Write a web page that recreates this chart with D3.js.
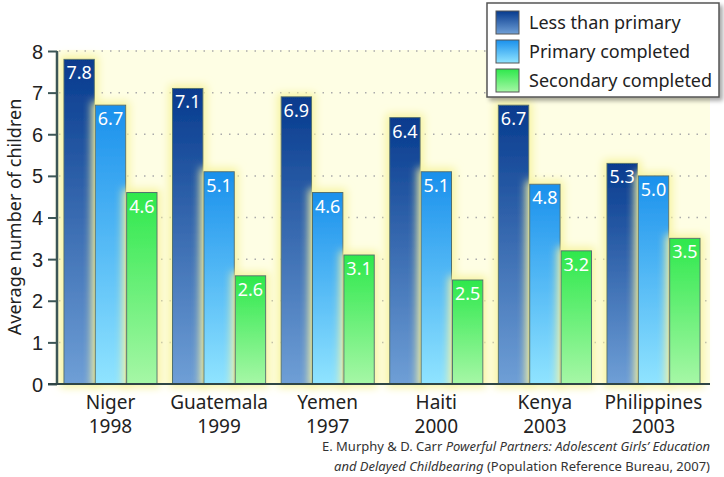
<!DOCTYPE html>
<html>
<head>
<meta charset="utf-8">
<script src="https://cdn.jsdelivr.net/npm/d3@7"></script>
<style>
  body { margin: 0; background: #fff; }
  svg { display: block; font-family: "Noto Sans", "Open Sans", sans-serif; }
  .tick-label { font-size: 20px; fill: #222; }
  .x-label { font-size: 19px; fill: #222; }
  .bar-label { font-size: 18px; fill: #fff; }
  .legend-text { font-size: 18px; fill: #222; }
  .source { font-size: 13px; fill: #333; }
</style>
</head>
<body>
<svg id="chart" width="724" height="477"></svg>
<script>
// data
const countries = ["Niger", "Guatemala", "Yemen", "Haiti", "Kenya", "Philippines"];
const years = ["1998", "1999", "1997", "2000", "2003", "2003"];
const seriesNames = ["Less than primary", "Primary completed", "Secondary completed"];
const lessThanPrimary = [7.8, 7.1, 6.9, 6.4, 6.7, 5.3];
const primaryCompleted = [6.7, 5.1, 4.6, 5.1, 4.8, 5.0];
const secondaryCompleted = [4.6, 2.6, 3.1, 2.5, 3.2, 3.5];
const yTicks = [0, 1, 2, 3, 4, 5, 6, 7, 8];

const seriesValues = [lessThanPrimary, primaryCompleted, secondaryCompleted];

// gradient colours top -> bottom for each series
const gradStops = [
    ["#063a8e", "#6f9fd6"],
    ["#1a90ec", "#90e4ff"],
    ["#2ee84c", "#a6f7a6"]
];

const svg = d3.select("#chart");
const plot = { left: 57, right: 710, top: 50, bottom: 384 };

const defs = svg.append("defs");
gradStops.forEach((c, i) => {
    let g = defs.append("linearGradient")
        .attr("id", "grad" + i)
        .attr("x1", 0).attr("y1", 0).attr("x2", 0).attr("y2", 1);
    g.append("stop").attr("offset", "0%").attr("stop-color", c[0]);
    g.append("stop").attr("offset", "100%").attr("stop-color", c[1]);
});

// yellow glow behind bars
let glow = defs.append("filter").attr("id", "glow")
    .attr("x", "-40%").attr("y", "-20%").attr("width", "180%").attr("height", "140%");
glow.append("feMorphology").attr("in", "SourceAlpha").attr("operator", "dilate").attr("radius", 3).attr("result", "d");
glow.append("feGaussianBlur").attr("in", "d").attr("stdDeviation", 4).attr("result", "b");
glow.append("feFlood").attr("flood-color", "#f6f3a0").attr("result", "f");
glow.append("feComposite").attr("in", "f").attr("in2", "b").attr("operator", "in").attr("result", "g");
let gm = glow.append("feMerge");
gm.append("feMergeNode").attr("in", "g");
gm.append("feMergeNode").attr("in", "SourceGraphic");

let shadow = defs.append("filter").attr("id", "shadow")
    .attr("x", "-10%").attr("y", "-10%").attr("width", "130%").attr("height", "130%");
shadow.append("feDropShadow").attr("dx", 3).attr("dy", 3).attr("stdDeviation", 2)
    .attr("flood-color", "#000").attr("flood-opacity", 0.35);

// scales
const yScale = d3.scaleLinear().domain([0, 8]).range([plot.bottom, plot.top + 1]);

const x0 = d3.scaleBand()
    .domain(countries)
    .range([plot.left, 707])
    .paddingInner(0.125)
    .paddingOuter(0.055);

const x1 = d3.scaleBand()
    .domain(d3.range(seriesNames.length))
    .range([0, x0.bandwidth()])
    .padding(0.03);

// background
svg.append("rect")
    .attr("x", plot.left)
    .attr("y", plot.top)
    .attr("width", plot.right - plot.left)
    .attr("height", plot.bottom - plot.top)
    .attr("fill", "#fefee4");

// dotted grid
svg.append("g")
    .selectAll("line")
    .data(yTicks.filter(d => d > 0))
    .join("line")
    .attr("x1", plot.left + 2)
    .attr("x2", plot.right)
    .attr("y1", d => yScale(d))
    .attr("y2", d => yScale(d))
    .attr("stroke", "#aaa")
    .attr("stroke-width", 1.5)
    .attr("stroke-dasharray", "1.5,7");

// bars
const groups = svg.append("g")
    .selectAll("g")
    .data(countries)
    .join("g")
    .attr("transform", d => "translate(" + x0(d) + ",0)");

groups.each(function (country, ci) {
    let g = d3.select(this);
    seriesValues.forEach((vals, si) => {
        let v = vals[ci];
        g.append("rect")
            .attr("x", x1(si))
            .attr("y", yScale(v))
            .attr("width", x1.bandwidth())
            .attr("height", plot.bottom - yScale(v))
            .attr("fill", "url(#grad" + si + ")")
            .attr("stroke", "#4f7070")
            .attr("stroke-width", 1)
            .attr("filter", "url(#glow)");
    });
});

groups.each(function (country, ci) {
    let g = d3.select(this);
    seriesValues.forEach((vals, si) => {
        let v = vals[ci];
        g.append("text")
            .attr("class", "bar-label")
            .attr("x", x1(si) + x1.bandwidth() / 2)
            .attr("y", yScale(v) + 20)
            .attr("text-anchor", "middle")
            .text(d3.format(".1f")(v));
    });
});

// y axis
const yAxis = svg.append("g")
    .attr("transform", "translate(" + plot.left + ",0)")
    .call(d3.axisLeft(yScale).tickValues(yTicks).tickSize(9).tickFormat(d3.format("d")));
yAxis.select(".domain").attr("stroke", "#3c5656").attr("stroke-width", 2.5)
    .attr("d", "M0," + (plot.top + 1) + "V" + plot.bottom);
yAxis.selectAll(".tick line").attr("stroke", "#3c5656").attr("stroke-width", 2);
yAxis.selectAll(".tick text")
    .attr("class", "tick-label")
    .attr("x", -14)
    .attr("dy", "0.35em")
    .style("font-size", "20px")
    .style("font-family", "inherit")
    .attr("fill", "#222");

// bottom axis line
svg.append("line")
    .attr("x1", plot.left - 9)
    .attr("x2", plot.right)
    .attr("y1", plot.bottom)
    .attr("y2", plot.bottom)
    .attr("stroke", "#2f4545")
    .attr("stroke-width", 2);

// x labels (country and year on two lines)
const xLabelG = svg.append("g");
xLabelG.selectAll("text.country")
    .data(countries)
    .join("text")
    .attr("class", "x-label country")
    .attr("text-anchor", "middle")
    .attr("x", d => x0(d) + x0.bandwidth() / 2)
    .attr("y", 409)
    .text(d => d);
xLabelG.selectAll("text.year")
    .data(countries)
    .join("text")
    .attr("class", "x-label year")
    .attr("text-anchor", "middle")
    .attr("x", d => x0(d) + x0.bandwidth() / 2)
    .attr("y", 433)
    .text((d, i) => years[i]);

// y title
svg.append("text")
    .attr("class", "x-label")
    .attr("transform", "translate(21," + ((plot.top + plot.bottom) / 2) + ") rotate(-90)")
    .attr("text-anchor", "middle")
    .style("font-size", "18px")
    .text("Average number of children");

// legend
const legend = svg.append("g").attr("transform", "translate(487,3)");
legend.append("rect")
    .attr("width", 232)
    .attr("height", 94)
    .attr("fill", "#fff")
    .attr("stroke", "#555")
    .attr("stroke-width", 1.5)
    .attr("filter", "url(#shadow)");

seriesNames.forEach((name, i) => {
    let row = legend.append("g").attr("transform", "translate(9," + (8 + i * 29) + ")");
    row.append("rect")
        .attr("width", 23)
        .attr("height", 23)
        .attr("fill", "url(#grad" + i + ")")
        .attr("stroke", "#555")
        .attr("stroke-width", 1);
    row.append("text")
        .attr("class", "legend-text")
        .attr("x", 33)
        .attr("y", 18)
        .text(name);
});

// source
const src1 = svg.append("text").attr("class", "source").attr("x", 710).attr("y", 451).attr("text-anchor", "end");
src1.append("tspan").text("E. Murphy & D. Carr ");
src1.append("tspan").attr("font-style", "italic").text("Powerful Partners: Adolescent Girls\u2019 Education");
const src2 = svg.append("text").attr("class", "source").attr("x", 710).attr("y", 471).attr("text-anchor", "end");
src2.append("tspan").attr("font-style", "italic").text("and Delayed Childbearing");
src2.append("tspan").text(" (Population Reference Bureau, 2007)");
</script>
</body>
</html>
